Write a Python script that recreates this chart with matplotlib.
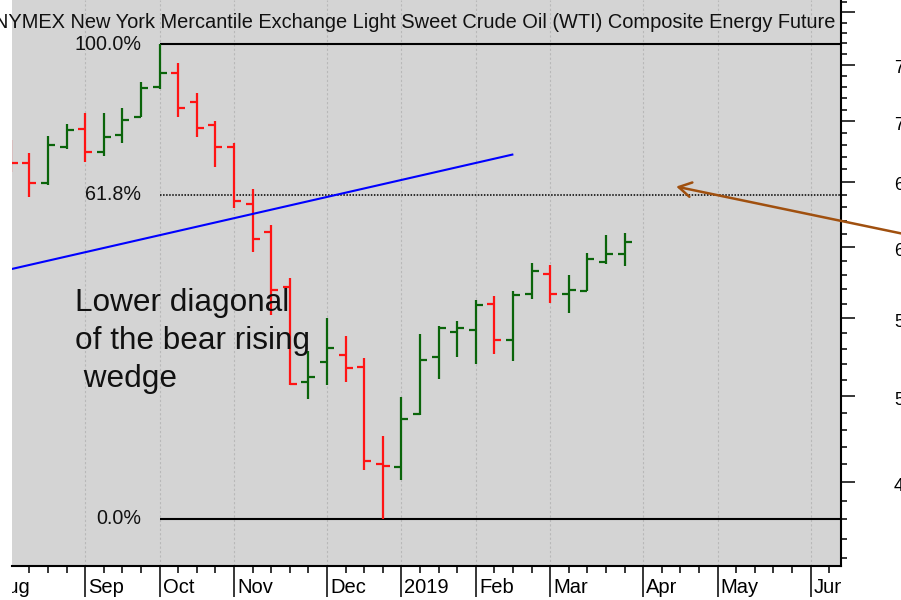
import numpy as np
import pandas as pd
import matplotlib
matplotlib.use('Agg')
import matplotlib.pyplot as plt
from matplotlib.transforms import ScaledTranslation, Bbox, TransformedBbox
from matplotlib.ticker import FixedLocator, NullFormatter

plt.rcParams['font.family'] = ['Liberation Sans', 'DejaVu Sans']

# ---------------- data ----------------
title = "NYMEX New York Mercantile Exchange Light Sweet Crude Oil (WTI) Composite Energy Future"

week_dates = ['2018-08-10', '2018-08-17', '2018-08-24', '2018-08-31',
              '2018-09-07', '2018-09-14', '2018-09-21', '2018-09-28',
              '2018-10-05', '2018-10-12', '2018-10-19', '2018-10-26',
              '2018-11-02', '2018-11-09', '2018-11-16', '2018-11-23', '2018-11-30',
              '2018-12-07', '2018-12-14', '2018-12-21', '2018-12-28',
              '2019-01-04', '2019-01-11', '2019-01-18', '2019-01-25',
              '2019-02-01', '2019-02-08', '2019-02-15', '2019-02-22',
              '2019-03-01', '2019-03-08', '2019-03-15', '2019-03-22', '2019-03-29']
opens = [67.59, 66.54, 64.89, 67.86, 69.32, 67.44, 68.84, 70.40,
         72.98, 74.24, 71.70, 69.69, 67.81, 63.26, 61.11, 57.17, 50.90,
         52.16, 52.61, 51.84, 46.02, 45.83, 48.91, 52.48, 54.11,
         54.22, 56.00, 53.56, 56.69, 58.09, 56.69, 56.85, 58.91, 59.53]
highs = [68.42, 67.36, 68.75, 69.75, 70.74, 70.74, 71.18, 73.48,
         76.95, 75.15, 72.50, 70.03, 68.19, 64.41, 61.66, 57.76, 52.85,
         55.04, 53.82, 52.41, 47.64, 49.93, 53.94, 54.49, 54.82,
         56.25, 56.53, 56.87, 58.83, 58.71, 58.00, 59.56, 60.91, 61.03]
lows = [65.79, 63.83, 64.75, 67.67, 66.58, 67.12, 68.19, 70.40,
        72.80, 70.35, 68.64, 66.22, 62.93, 59.67, 55.23, 50.69, 49.83,
        50.69, 50.86, 45.68, 43.05, 45.13, 48.86, 51.07, 52.44,
        52.01, 52.65, 52.22, 56.30, 56.06, 55.38, 56.85, 58.76, 58.64]
closes = [66.55, 64.93, 68.00, 69.26, 67.44, 68.69, 70.11, 72.89,
          74.24, 71.12, 69.40, 67.86, 63.52, 60.61, 56.94, 50.73, 51.21,
          53.02, 51.74, 46.21, 45.92, 48.61, 52.27, 54.33, 54.33,
          55.89, 53.56, 56.57, 58.30, 56.69, 56.92, 59.14, 59.53, 60.37]

fib_ratios = [1.0, 0.618, 0.0]
fib_labels = ['100.0%', '61.8%', '0.0%']
fib_styles = ['-', (0, (1, 1)), '-']
fib_widths = [1.5, 1.1, 1.5]

price_major = [45, 50, 55, 60, 65, 70, 75, 80]
price_labels = [45, 50, 55, 60, 65, 70, 75]
price_minor = list(range(41, 82))

# trend line (weeks from 2018-09-07, price) and arrow
trend_weeks = [-3.98, 22.96]
trend_prices = [58.42, 67.21]
arrow_tip = (31.77, 64.63)
arrow_tail = (44.03, 60.98)

note_lines = ['Lower diagonal', 'of the bear rising', ' wedge']

# ---------------- layout ----------------
FW, FH = 901, 600
origin = pd.Timestamp('2018-09-07')
dates = pd.to_datetime(week_dates)
xs = np.asarray((dates - origin).days / 7.0)
px_per_week = 18.6
half = 7.0 / px_per_week
XMIN, XMAX = -3.94, 40.63

fig = plt.figure(figsize=(FW / 100, FH / 100), dpi=100, facecolor='white')
ax = fig.add_axes([12 / FW, 34 / FH, 829 / FW, 566 / FH])
ax.set_facecolor('#D4D4D4')
ax.set_yscale('log')
ax.set_ylim(40.62, 81.21)
ax.set_xlim(XMIN, XMAX)

# month ticks
fridays = pd.date_range('2018-08-01', '2019-06-30', freq='W-FRI')
month_first = [d for d in fridays if d.day <= 7]
month_x = [(d - origin).days / 7.0 for d in month_first]
month_lab = [('2019' if (d.month == 1) else d.strftime('%b')) for d in month_first]
week_x = [(d - origin).days / 7.0 for d in fridays]

ax.vlines(month_x, 40.62, 81.21, colors='#B8B8B8', linestyles=(0, (2, 2)),
          linewidth=0.8, zorder=1)

# OHLC bars
cols = ['#0A640A' if c >= o else '#FF1414' for o, c in zip(opens, closes)]
ax.vlines(xs, lows, highs, colors=cols, linewidth=1.6, zorder=3)
ax.hlines(opens, xs - half, xs, colors=cols, linewidth=1.6, zorder=3)
ax.hlines(closes, xs, xs + half, colors=cols, linewidth=1.6, zorder=3)

# Fibonacci levels
hi = max(highs)
lo = min(lows)
x_hi = xs[int(np.argmax(highs))]
for r, lab, ls, lw in zip(fib_ratios, fib_labels, fib_styles, fib_widths):
    lvl = lo + r * (hi - lo)
    ax.hlines(lvl, x_hi, XMAX, colors='black', linestyles=ls, linewidth=lw, zorder=2)
    ax.text(x_hi - 1, lvl, lab, ha='right', va='center', fontsize=14.2,
            color='#111111', zorder=4)

# trend line
ax.plot(trend_weeks, trend_prices, color='#0000FF', linewidth=1.5, zorder=4)

# arrow
ax.annotate('', xy=arrow_tip, xytext=arrow_tail, xycoords='data', textcoords='data',
            annotation_clip=False,
            arrowprops=dict(arrowstyle='->,head_length=0.6,head_width=0.35',
                            color='#A0500F', lw=1.8, shrinkA=0, shrinkB=0,
                            mutation_scale=15))

# spines
for s in ['left', 'top']:
    ax.spines[s].set_visible(False)
for s in ['bottom', 'right']:
    ax.spines[s].set_linewidth(1.5)
    ax.spines[s].set_color('black')

# y axis (right)
ax.yaxis.set_ticks_position('right')
ax.yaxis.set_major_locator(FixedLocator(price_major))
ax.yaxis.set_minor_locator(FixedLocator(price_minor))
ax.yaxis.set_major_formatter(NullFormatter())
ax.yaxis.set_minor_formatter(NullFormatter())
ax.tick_params(axis='y', which='major', length=10.1, width=1.1, direction='out')
ax.tick_params(axis='y', which='minor', length=4.3, width=1.1, direction='out')
ytr = ax.get_yaxis_transform() + ScaledTranslation(53 / 100, -4 / 100, fig.dpi_scale_trans)
for p in price_labels:
    ax.text(1, p, str(p), transform=ytr, ha='left', va='center', fontsize=13,
            clip_on=False)

# x axis
ax.xaxis.set_major_locator(FixedLocator(month_x))
ax.xaxis.set_minor_locator(FixedLocator(week_x))
ax.xaxis.set_major_formatter(NullFormatter())
ax.xaxis.set_minor_formatter(NullFormatter())
ax.tick_params(axis='x', which='major', length=22.3, width=1.1, direction='out')
ax.tick_params(axis='x', which='minor', length=5.0, width=1.1, direction='out')

clipbox = TransformedBbox(Bbox.from_extents(12 / FW, 0, 841 / FW, 1), fig.transFigure)
xtr = ax.get_xaxis_transform() + ScaledTranslation(3 / 100, 0, fig.dpi_scale_trans)
lab_y = (566 - 593) / 566
for mx, ml in zip(month_x, month_lab):
    t = fig.text(mx, lab_y, ml, transform=xtr, ha='left', va='baseline', fontsize=14.5)
    t.set_clip_box(clipbox)
    t.set_clip_on(True)

# title
fig.text(835 / FW, 1 - 27.7 / FH, title, ha='right', va='baseline', fontsize=14.4,
         color='#111111')

# note
for i, line in enumerate(note_lines):
    fig.text(75 / FW, 1 - (311.5 + 37.5 * i) / FH, line, ha='left', va='baseline',
             fontsize=22.7, color='#111111')

fig.savefig('out.png', dpi=100, facecolor=fig.get_facecolor())
